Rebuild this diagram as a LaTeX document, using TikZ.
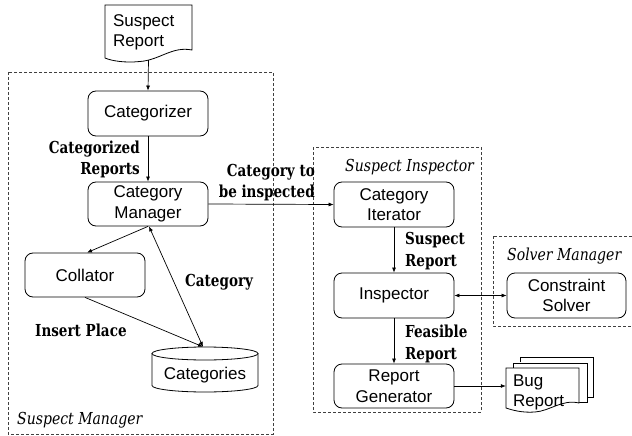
\documentclass[tikz,border=0pt]{standalone}
\usepackage{fontspec}
\setmainfont{Liberation Sans}
\newfontfamily\lblfont[FakeStretch=0.82]{DejaVu Serif}
\newfontfamily\ttlfont[FakeStretch=0.85]{DejaVu Serif}
\usetikzlibrary{arrows.meta}
\tikzset{
  every node/.style={inner sep=0pt},
  box/.style={draw, line width=0.8pt, rounded corners=8pt, minimum width=120pt, minimum height=45pt, align=center, font=\fontsize{17}{20.5}\selectfont},
  doc/.style={minimum width=#1, font=\fontsize{17}{20}\selectfont, align=left},
  lbl/.style={font=\lblfont\bfseries\fontsize{16.5}{21.5}\selectfont},
  ttl/.style={font=\ttlfont\itshape\fontsize{16.5}{19}\selectfont},
  grp/.style={draw, line width=0.7pt, dash pattern=on 3pt off 2pt, black!75},
  shp/.style={draw, line width=0.8pt},
  arr/.style={line width=0.7pt, -{Latex[length=5pt,width=4pt]}},
  darr/.style={line width=0.7pt, {Latex[length=5pt,width=4pt]}-{Latex[length=5pt,width=4pt]}},
}
\begin{document}
\begin{tikzpicture}[x=1pt,y=-1pt]
\useasboundingbox (0,0) rectangle (632,436);
\clip (0,0) rectangle (632,436);
% groups
\draw[grp] (8,72) rectangle (273,434);
\draw[grp] (313,147) rectangle (481,412);
\draw[grp] (493,236) rectangle (640,326);
\node[ttl, anchor=west] (tsm) at (17,420) {Suspect Manager};
\node[ttl, anchor=west] (tsi) at (345,167) {Suspect Inspector};
\node[ttl, anchor=west] (tso) at (507,256) {Solver Manager};
% suspect report document
\draw[shp] (105,5) -- (192,5) -- (192,50) .. controls (172,46) and (160,60) .. (140,61.5) .. controls (125,63) and (112,61) .. (105,58) -- cycle;
\node[doc=87pt, minimum height=55pt, inner xsep=8pt, text width=71pt] (sr) at (148.5,32.5) {Suspect\\Report};
% boxes
\node[box] (cat) at (148,113.5) {Categorizer};
\node[box, minimum height=44pt] (catman) at (148,204) {Category\\Manager};
\node[box, minimum height=44pt] (coll) at (85,275) {Collator};
\draw[shp] (205,353.5) ellipse [x radius=53pt, y radius=6.5pt];
\draw[shp] (152,353.5) -- (152,385.5) .. controls (152,389.1) and (175.7,392) .. (205,392) .. controls (234.3,392) and (258,389.1) .. (258,385.5) -- (258,353.5);
\node[minimum width=106pt, minimum height=56pt, font=\fontsize{17}{20.5}\selectfont] (cats) at (205,375) {Categories};
\node[box] (catit) at (394,204.5) {Category\\Iterator};
\node[box] (insp) at (394,295.5) {Inspector};
\node[box, minimum height=44pt] (repgen) at (394,386) {Report\\Generator};
\node[box, minimum width=119pt] (solver) at (566.5,295.5) {Constraint\\Solver};
% bug report multi document
\draw[shp] (520,362) -- (520,357) -- (593,357) -- (593,397) -- (587,397);
\draw[shp] (513,368) -- (513,363) -- (587,363) -- (587,402) -- (579,402);
\draw[shp, fill=white] (506,368) -- (579,368) -- (579,403) .. controls (562,399) and (550,411) .. (535,412) .. controls (522,413) and (512,410) .. (506,408) -- cycle;
\node[doc=73pt, minimum height=44pt, inner xsep=7pt, text width=59pt] (br) at (542.5,392) {Bug\\Report};
% labels
\node[lbl, anchor=east, align=right] (l1) at (140,159.5) {Categorized\\Reports};
\node[lbl, anchor=east, align=right] (l2) at (315,182.5) {Category to\\be inspected};
\node[lbl, anchor=west] (l3) at (185,282) {Category};
\node[lbl, anchor=west] (l4) at (35,330) {Insert Place};
\node[lbl, anchor=west, align=left] (l5) at (405,251) {Suspect\\Report};
\node[lbl, anchor=west, align=left] (l6) at (405,344) {Feasible\\Report};
% connectors
\draw[arr] (sr.south) -- (cat.north);
\draw[arr] (cat.south) -- (catman.north);
\draw[arr] (catman.east) -- (catit.west);
\draw[arr] (catman.south) -- ([xshift=2pt]coll.north);
\draw[darr] ([xshift=1pt]catman.south) -- ([xshift=-2pt]cats.north);
\draw[arr] (coll.south) -- ([xshift=-2pt]cats.north);
\draw[arr] (catit.south) -- (insp.north);
\draw[darr] (insp.east) -- (solver.west);
\draw[arr] (insp.south) -- (repgen.north);
\draw[arr] (repgen.east) -- (br.west |- repgen.east);
\end{tikzpicture}
\end{document}
